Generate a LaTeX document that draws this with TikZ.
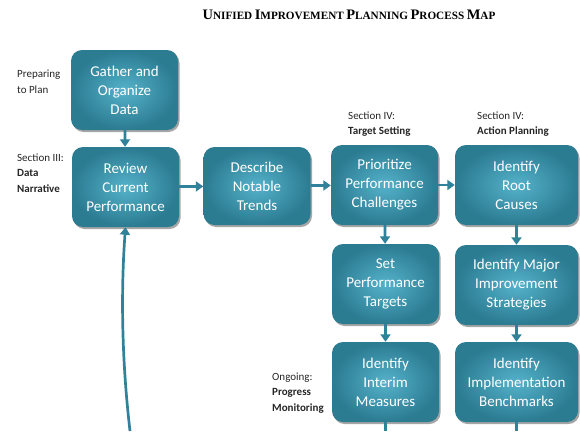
\documentclass[tikz,border=0pt]{standalone}
\usepackage{fontspec}
\setmainfont{Carlito}
\newfontfamily\titlefont{Liberation Serif}
\usetikzlibrary{arrows.meta,shadows}
\definecolor{tealedge}{HTML}{2B7B91}
\definecolor{tealmid}{HTML}{54B2CA}
\definecolor{arrowteal}{HTML}{2F8299}
\newcommand{\capsword}[2]{{\fontsize{14.5}{16}\selectfont #1}{\fontsize{11.2}{16}\selectfont #2}}
\begin{document}
\begin{tikzpicture}[x=1pt,y=-1pt,
    stepbox/.style={rectangle, rounded corners=11pt, minimum width=107pt, minimum height=80pt,
        shading=radial, inner color=tealmid, outer color=tealedge,
        drop shadow={shadow xshift=1.5pt, shadow yshift=-2pt, fill=black, opacity=0.35},
        text=white, align=center, font=\fontsize{15}{19}\selectfont},
    widebox/.style={stepbox, minimum width=123pt},
    sidelabel/.style={anchor=west, align=left, inner sep=0pt, text=black!85, font=\fontsize{11}{15.5}\selectfont},
    conn/.style={draw=arrowteal, line width=2.7pt, -{Triangle[length=7.5pt,width=10pt]}},
    link/.style={draw=arrowteal, line width=2.7pt}]
\useasboundingbox (0,0) rectangle (580,431);
% title
\node (title) at (349,15) {\titlefont\bfseries\capsword{U}{NIFIED} \capsword{I}{MPROVEMENT} \capsword{P}{LANNING} \capsword{P}{ROCESS} \capsword{M}{AP}};
% side labels
\node[sidelabel] (prep) at (17,82) {Preparing\\to Plan};
\node[sidelabel] (sec3) at (17,173) {Section III:\\\textbf{Data}\\\textbf{Narrative}};
\node[sidelabel] (sec4a) at (348,124) {Section IV:\\\textbf{Target Setting}};
\node[sidelabel] (sec4b) at (477,124) {Section IV:\\\textbf{Action Planning}};
\node[sidelabel] (ongo) at (272,393) {Ongoing:\\\textbf{Progress}\\\textbf{Monitoring}};
% process boxes
\node[stepbox] (gather) at (124.5,90) {Gather and\\Organize\\Data};
\node[stepbox] (review) at (125.5,187) {Review\\Current\\Performance};
\node[stepbox, minimum height=78pt] (describe) at (257,186) {Describe\\Notable\\Trends};
\node[stepbox] (prior) at (384.5,185) {Prioritize\\Performance\\Challenges};
\node[widebox] (root) at (516.5,185) {Identify\\Root\\Causes};
\node[stepbox] (settarg) at (385.5,284) {Set\\Performance\\Targets};
\node[widebox] (major) at (516.5,285) {Identify Major\\Improvement\\Strategies};
\node[stepbox] (interim) at (385.5,382) {Identify\\Interim\\Measures};
\node[widebox] (bench) at (516.5,382) {Identify\\Implementation\\Benchmarks};
% loose ends at the bottom
\coordinate (interimout) at (385.5,431);
\coordinate (benchout) at (516.5,431);
\coordinate (loopin) at (130,431);
% connectors
\draw[conn] (gather) -- (review);
\draw[conn] (review) -- (describe);
\draw[conn] (describe) -- (prior);
\draw[conn] (prior) -- (root);
\draw[conn] (prior) -- (settarg);
\draw[conn] (root) -- (major);
\draw[conn] (settarg) -- (interim);
\draw[conn] (major) -- (bench);
\draw[link] (interim) -- (interimout);
\draw[link] (bench) -- (benchout);
\draw[conn] (loopin) .. controls (120,345) and (122,275) .. (review.south);
\end{tikzpicture}
\end{document}
